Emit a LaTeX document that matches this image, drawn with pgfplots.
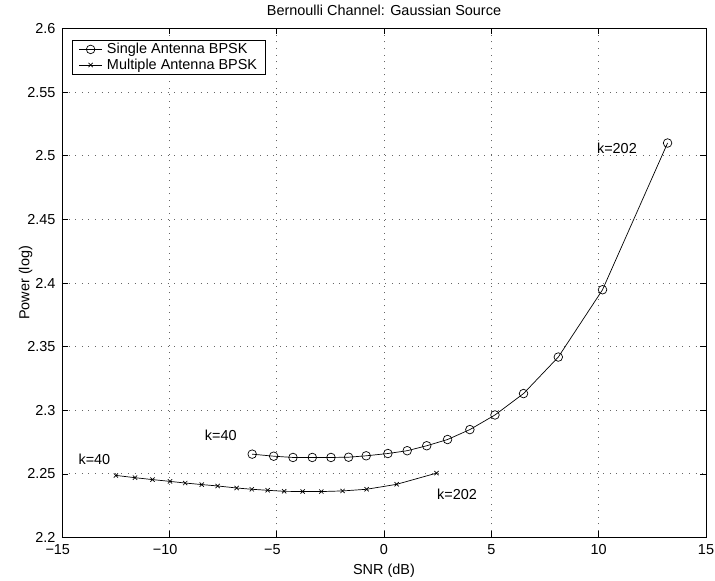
\documentclass[border=0pt]{standalone}
\usepackage{fontspec}
\setmainfont{Liberation Sans}
\usepackage{pgfplots}
\pgfplotsset{compat=1.18}
\begin{document}
\fontsize{14.5}{17}\selectfont
\begin{tikzpicture}
\begin{axis}[
  scale only axis, width=644bp, height=509bp,
  xmin=-15, xmax=15, ymin=2.2, ymax=2.6,
  xtick={-15,-10,-5,0,5,10,15},
  xticklabels={\llap{−}15,\llap{−}10,\llap{−}5,0,5,10,15},
  ytick={2.2,2.25,2.3,2.35,2.4,2.45,2.5,2.55,2.6},
  yticklabels={2.2,2.25,2.3,2.35,2.4,2.45,2.5,2.55,2.6},
  grid=major,
  major grid style={dash pattern=on 1bp off 5.6bp, black!60, line width=0.8pt},
  tick align=inside, major tick length=6bp,
  tick style={black, line width=0.6pt},
  axis line style={line width=0.8pt},
  xticklabel style={anchor=base, yshift=-17bp},
  yticklabel style={anchor=east, xshift=-1.5bp},
  title={Bernoulli Channel: Gaussian Source},
  title style={at={(axis description cs:0.5,1)}, anchor=base, yshift=7.5bp},
  xlabel={SNR (dB)},
  xlabel style={at={(axis description cs:0.5,0)}, anchor=base, yshift=-37bp},
  ylabel={Power (log)},
  every axis y label/.style={at={(axis description cs:0,0.5)}, rotate=90, anchor=base, yshift=32.5bp},
  legend style={at={(axis description cs:0,1)}, anchor=north west, xshift=10.3bp, yshift=-11.8bp,
    draw=black, line width=0.6pt, inner xsep=6.4bp, inner ysep=1bp, row sep=0bp,
    nodes={inner xsep=2bp, inner ysep=1.5bp}, cells={anchor=west},
    /tikz/every odd column/.style={column sep=2.7bp},
    font=\fontsize{14.5}{17}\selectfont},
  legend image code/.code={\draw[mark repeat=2,mark phase=2,#1] plot coordinates {(0bp,0bp) (11.3bp,0bp) (22.6bp,0bp)};},
]
\addplot[black, line width=0.7pt, mark=o, mark size=4.3bp, mark options={solid}] coordinates {
(-6.14,2.2655) (-5.14,2.2639) (-4.24,2.2629) (-3.34,2.2629) (-2.47,2.2629) (-1.65,2.2631)
(-0.83,2.2642) (0.18,2.2660) (1.08,2.2682) (1.99,2.2721) (2.96,2.2770) (4.00,2.2848)
(5.17,2.2963) (6.50,2.3131) (8.12,2.3418) (10.18,2.3947) (13.21,2.5100)};
\addlegendentry{Single Antenna BPSK}
\addplot[black, line width=0.7pt, mark=x, mark size=3bp, mark options={solid}] coordinates {
(-12.49,2.2488) (-11.60,2.2470) (-10.78,2.2455) (-9.97,2.2441) (-9.26,2.2428) (-8.49,2.2416)
(-7.75,2.2405) (-6.86,2.2389) (-6.16,2.2379) (-5.42,2.2371) (-4.65,2.2363) (-3.79,2.2361)
(-2.92,2.2361) (-1.93,2.2366) (-0.81,2.2379) (0.59,2.2418) (2.45,2.2506)};
\addlegendentry{Multiple Antenna BPSK}
\node at (axis cs:-7.60,2.2801) {k=40};
\node at (axis cs:-13.49,2.2611) {k=40};
\node at (axis cs:10.85,2.5061) {k=202};
\node at (axis cs:3.40,2.2340) {k=202};
\end{axis}
\pgfresetboundingbox
\path ([shift={(-62bp,-43.5bp)}]current axis.south west) rectangle ([shift={(9bp,28.5bp)}]current axis.north east);
\end{tikzpicture}
\end{document}
